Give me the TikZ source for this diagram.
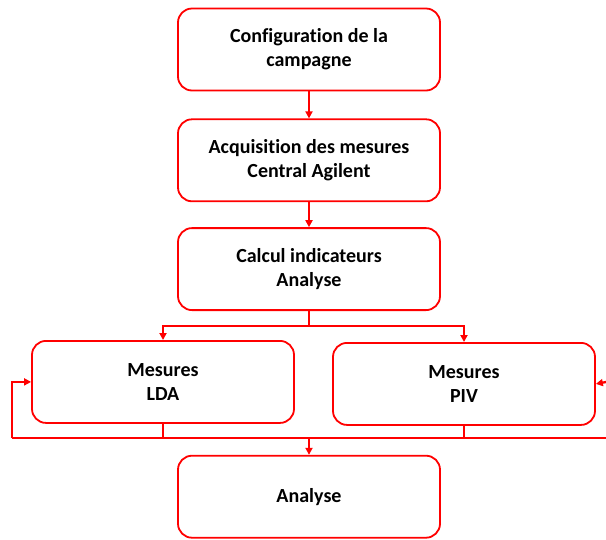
\documentclass[tikz,border=0pt]{standalone}
\usepackage{fontspec}
\setmainfont{Carlito}[Ligatures={NoCommon,NoContextual}]
\usepackage{tikz}
\usetikzlibrary{arrows.meta,positioning}
\definecolor{flowred}{RGB}{255,0,0}

\begin{document}
\begin{tikzpicture}[
   x=1pt,y=1pt,
   node distance=27pt,
   box/.style={draw=flowred,line width=1.8pt,rounded corners=14pt,
               minimum width=262pt,minimum height=82pt,align=center,
               font=\fontsize{20}{24}\selectfont\bfseries},
   wire/.style={draw=flowred,line width=2.3pt},
   arr/.style={wire,-{Triangle[length=7pt,width=7pt]}}
 ]
  \useasboundingbox (0,0) rectangle (606,-539);
  \node[box] (config) at (309,-49.5) {Configuration de la\\campagne};
  \node[box,below=of config] (acq) {Acquisition des mesures\\Central Agilent};
  \node[box,below=25pt of acq] (calc) {Calcul indicateurs\\Analyse};
  \node[box,below=29pt of calc,xshift=-146pt] (lda) {Mesures\\LDA};
  \node[box,below=31pt of calc,xshift=155pt] (piv) {Mesures\\PIV};
  \node[box,below=31pt of lda,xshift=146pt] (analyse) {Analyse};
  \coordinate (busL) at (12,-438);
  \coordinate (busR) at (606,-438);
  \coordinate (backR) at (606,-382);
  \draw[arr] (config) -- (acq);
  \draw[arr] (acq) -- (calc);
  \draw[arr] (calc.south) -- ++(0,-15) -| (lda.north);
  \draw[arr] (calc.south) -- ++(0,-15) -| (piv.north);
  % retour des mesures
  \draw[wire] (busL) -- (busR);
  \draw[wire] (lda.south) -- (lda.south |- busL);
  \draw[wire] (piv.south) -- (piv.south |- busL);
  \draw[arr] (busL) |- (lda.west);
  \draw[arr] (backR) -- (piv.east);
  \draw[arr] (analyse.north |- busL) -- (analyse.north);
\end{tikzpicture}
\end{document}
